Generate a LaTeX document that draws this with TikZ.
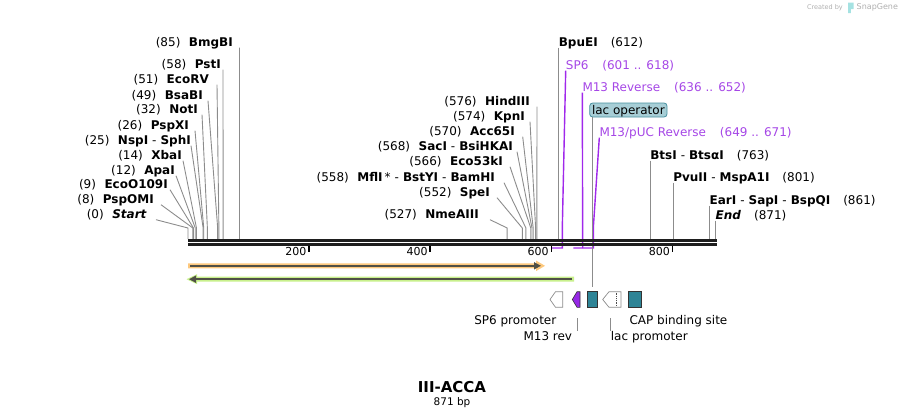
\documentclass[tikz,border=0pt]{standalone}
\usepackage{fontspec}
\setmainfont{DejaVu Sans}
\usepackage{tikz}
\usetikzlibrary{arrows.meta}

\definecolor{cutgray}{RGB}{140,140,140}
\definecolor{barblack}{RGB}{30,30,30}
\definecolor{primer}{RGB}{160,40,235}
\definecolor{primertext}{RGB}{165,70,230}
\definecolor{lacfill}{RGB}{167,206,214}
\definecolor{lacdraw}{RGB}{72,145,160}
\definecolor{teal}{RGB}{46,132,150}
\definecolor{m13purple}{RGB}{150,40,230}
\definecolor{orangeglow}{RGB}{253,200,125}
\definecolor{greenglow}{RGB}{200,240,140}
\definecolor{arrowdark}{RGB}{80,80,70}
\definecolor{snapgray}{RGB}{175,175,175}

\newcommand{\dsep}{\hspace{4pt}-\hspace{4pt}}

\begin{document}
\begin{tikzpicture}[x=1pt,y=-1pt,
    lbl/.style={inner sep=0pt, text height=9.5pt, text depth=1.5pt, font=\fontsize{12}{14}\selectfont},
    cutline/.style={cutgray, line width=0.9pt},
    primerline/.style={primer, line width=1.4pt},
    featline/.style={cutgray, line width=0.9pt},
    featbox/.style={draw=black!80, line width=0.6pt}]
    \useasboundingbox (0,0) rectangle (905,418);

    % sites left of the bar, labels end at x = \xe
    \foreach \bp/\y/\xe/\sx/\txt [count=\i] in {
        85/42/233/239.5/{(85)\hspace{8.5pt}\textbf{BmgBI}},
        58/64/221/223/{(58)\hspace{8.5pt}\textbf{PstI}},
        51/79/209/217/{(51)\hspace{8.5pt}\textbf{EcoRV}},
        49/95/203/208/{(49)\hspace{8.5pt}\textbf{BsaBI}},
        32/109/198/202/{(32)\hspace{8.5pt}\textbf{NotI}},
        26/125/189/195/{(26)\hspace{8.5pt}\textbf{PspXI}},
        25/140/191/191/{(25)\hspace{8.5pt}\textbf{NspI}\dsep\textbf{SphI}},
        14/155/182/183/{(14)\hspace{8.5pt}\textbf{XbaI}},
        12/170/175/176/{(12)\hspace{8.5pt}\textbf{ApaI}},
        9/184/168/170/{(9)\hspace{8.5pt}\textbf{EcoO109I}},
        8/199/154/161/{(8)\hspace{8.5pt}\textbf{PspOMI}},
        0/214/147/156/{(0)\hspace{8.5pt}\textbf{\textit{Start}}}}{
        \node[lbl, anchor=east] (cl\i) at (\xe,\y) {\txt};
        \coordinate (cs\i) at (\sx,0);
        \coordinate (ct\i) at ({188+0.6056*\bp},228);
        \coordinate (cb\i) at ({188+0.6056*\bp},239);
        \draw[cutline] (cl\i.south -| cs\i) -- (ct\i) -- (cb\i);
    }

    % sites in the middle
    \foreach \bp/\y/\xe/\sx/\txt [count=\i] in {
        576/101/530/537/{(576)\hspace{8.5pt}\textbf{HindIII}},
        574/116/525/530/{(574)\hspace{8.5pt}\textbf{KpnI}},
        570/131/515/522.7/{(570)\hspace{8.5pt}\textbf{Acc65I}},
        568/146/513/517/{(568)\hspace{8.5pt}\textbf{SacI}\dsep\textbf{BsiHKAI}},
        566/161/503/510/{(566)\hspace{8.5pt}\textbf{Eco53kI}},
        558/177/495/504/{(558)\hspace{8.5pt}\textbf{MflI}\,*\dsep\textbf{BstYI}\dsep\textbf{BamHI}},
        552/192/490/497/{(552)\hspace{8.5pt}\textbf{SpeI}},
        527/214/479/490/{(527)\hspace{8.5pt}\textbf{NmeAIII}}}{
        \node[lbl, anchor=east] (cm\i) at (\xe,\y) {\txt};
        \coordinate (ms\i) at (\sx,0);
        \coordinate (mt\i) at ({188+0.6056*\bp},228);
        \coordinate (mb\i) at ({188+0.6056*\bp},239);
        \draw[cutline] (cm\i.south -| ms\i) -- (mt\i) -- (mb\i);
    }

    % sites right of the primers
    \foreach \bp/\y/\txt [count=\i] in {
        612/42/{\textbf{BpuEI}\hspace{13pt}(612)},
        763/155/{\textbf{BtsI}\dsep\textbf{BtsαI}\hspace{13pt}(763)},
        801/177/{\textbf{PvuII}\dsep\textbf{MspA1I}\hspace{13pt}(801)},
        861/200/{\textbf{EarI}\dsep\textbf{SapI}\dsep\textbf{BspQI}\hspace{13pt}(861)},
        871/215/{\textbf{\textit{End}}\hspace{13pt}(871)}}{
        \node[lbl, anchor=west] (cr\i) at ({188+0.6056*\bp},\y) {\txt};
        \coordinate (rb\i) at ({188+0.6056*\bp},239);
        \draw[cutline] (cr\i.south west) -- (rb\i);
    }

    % primers
    \node[lbl, anchor=west, text=primertext] (sp6) at (565.7,65) {SP6\hspace{14pt}(601 .. 618)};
    \node[lbl, anchor=west, text=primertext] (m13r) at (582.3,87) {M13 Reverse\hspace{14pt}(636 .. 652)};
    \node[lbl, anchor=west, text=primertext] (m13p) at (599.3,132) {M13/pUC Reverse\hspace{14pt}(649 .. 671)};
    \coordinate (sp6a) at (562.3,228);
    \coordinate (sp6b) at (562.3,248);
    \coordinate (sp6c) at (552,248);
    \coordinate (m13a) at (582.7,248);
    \coordinate (m13b) at (593.3,228);
    \coordinate (m13c) at (593.3,248);
    \coordinate (m13d) at (573.3,248);
    \draw[primerline] (sp6.south west) -- (sp6a) -- (sp6b) -- (sp6c);
    \draw[primerline] (m13r.south west) -- (m13a);
    \draw[primerline] (m13p.south west) -- (m13b) -- (m13c) -- (m13d);

    % lac operator tag
    \node[lbl, anchor=west, fill=lacfill, draw=lacdraw, line width=0.8pt, rounded corners=3pt,
          inner xsep=2.3pt, inner ysep=1.5pt] (lacop) at (589.3,110) {lac operator};
    \coordinate (lacx) at (592.3,0);
    \coordinate (lacend) at (592.3,287);
    \draw[cutline] (lacop.south -| lacx) -- (lacend);

    % sequence bar
    \draw[barblack, line width=2.6pt] (188,240.6) -- (716.5,240.6);
    \draw[barblack, line width=2.6pt] (188,244.6) -- (716.5,244.6);
    \foreach \t in {200,400,600,800}{
        \coordinate (tk\t) at ({188+0.6056*\t},246);
        \draw[black, line width=1.5pt] (tk\t) -- ++(0,6);
        \node[anchor=east, inner sep=0pt, font=\fontsize{11}{13}\selectfont] (tl\t) at ({188+0.6056*\t-2.5},251.5) {\t};
    }

    % the two long features
    \fill[orangeglow] (188,263.3) -- (536,263.3) -- (536,260.5) -- (545,265.8)
        -- (536,271.1) -- (536,268.3) -- (188,268.3) -- cycle;
    \draw[arrowdark, line width=1.5pt, -{Triangle[length=7pt,width=7pt]}] (190,265.8) -- (541,265.8);
    \fill[greenglow] (574,276.7) -- (197,276.7) -- (197,274.2) -- (186.5,279.2)
        -- (197,284.2) -- (197,281.7) -- (574,281.7) -- cycle;
    \draw[arrowdark, line width=1.5pt, -{Triangle[length=7pt,width=7pt]}] (572,279.2) -- (189,279.2);

    % small features
    \filldraw[fill=white, draw=cutgray, line width=0.7pt]
        (550,299.5) -- (555.5,291.7) -- (562.7,291.7) -- (562.7,307.3) -- (555.5,307.3) -- cycle;
    \filldraw[fill=m13purple, featbox]
        (572.3,299.5) -- (577,291.7) -- (580,291.7) -- (580,307.3) -- (577,307.3) -- cycle;
    \filldraw[fill=teal, featbox] (587.7,291.7) rectangle (597.3,307.3);
    \filldraw[fill=white, draw=cutgray, line width=0.7pt]
        (602.7,299.5) -- (609,291.7) -- (621,291.7) -- (621,307.3) -- (609,307.3) -- cycle;
    \draw[black!70, densely dotted, line width=0.8pt] (616.7,292.5) -- (616.7,306.5);
    \filldraw[fill=teal, featbox] (628.3,291.7) rectangle (641.7,307.3);

    \node[lbl] (sp6pro) at (515.3,320.7) {SP6 promoter};
    \node[lbl, anchor=west] (cap) at (629.3,320.7) {CAP binding site};
    \node[lbl, anchor=east] (m13rev) at (572.3,336.7) {M13 rev};
    \node[lbl, anchor=west] (lacpro) at (610.7,336.7) {lac promoter};
    \coordinate (m13top) at (577.5,318);
    \coordinate (lactop) at (610.7,318);
    \draw[featline] (m13top) -- (m13top |- m13rev.north);
    \draw[featline] (lactop) -- (lacpro.north west);

    % title
    \node[font=\fontsize{15}{17}\selectfont\bfseries, inner sep=0pt] (title) at (452,387) {III-ACCA};
    \node[font=\fontsize{10.5}{12}\selectfont, inner sep=0pt] (size) at (452,402.5) {871 bp};

    % corner mark
    \node[anchor=east, inner sep=0pt, text=snapgray, font=\fontsize{6.5}{8}\selectfont] (made) at (843,7.5) {Created by};
    \fill[snapgray!60!cyan!60] (848,2.5) rectangle (853.5,9) (848,9) rectangle (850.8,13);
    \node[anchor=west, inner sep=0pt, text=snapgray, font=\fontsize{8}{10}\selectfont] (snap) at (856.5,7.5) {SnapGene};
\end{tikzpicture}
\end{document}
